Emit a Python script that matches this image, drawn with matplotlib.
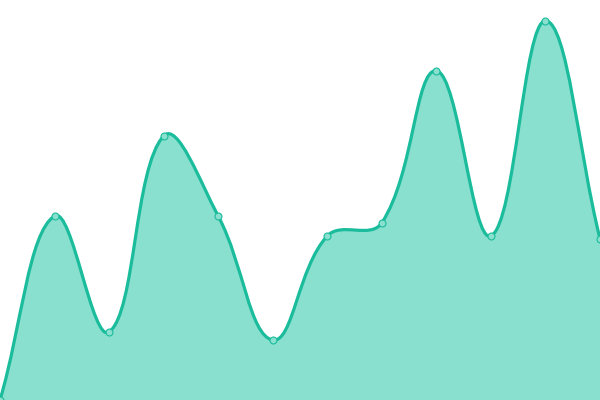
import numpy as np
import matplotlib
matplotlib.use("Agg")
import matplotlib.pyplot as plt
from matplotlib.path import Path
from matplotlib.patches import PathPatch

labels = list(range(12))
values = [0, 46, 17, 66, 46, 15, 41, 44.3, 82.3, 41, 94.8, 40.3]

LINE = "#1abc9c"
FILL = "#8ae0cf"
W, H = 600, 400
YMAX = 100
tension = 0.4

fig = plt.figure(figsize=(6, 4), dpi=100)
ax = fig.add_axes([0, 0, 1, 1])
ax.set_xlim(0, len(values) - 1)
ax.set_ylim(0, YMAX)
ax.axis("off")

# pixel-space points for Chart.js-style spline control points
sx = W / (len(values) - 1)
sy = H / YMAX
px = np.array(labels, dtype=float) * sx
py = np.array(values, dtype=float) * sy
n = len(px)
cp_prev = np.zeros((n, 2))
cp_next = np.zeros((n, 2))
for i in range(n):
    prev = np.array([px[max(i - 1, 0)], py[max(i - 1, 0)]])
    cur = np.array([px[i], py[i]])
    nxt = np.array([px[min(i + 1, n - 1)], py[min(i + 1, n - 1)]])
    d01 = np.hypot(*(cur - prev))
    d12 = np.hypot(*(nxt - cur))
    tot = d01 + d12
    s01 = d01 / tot if tot else 0
    s12 = d12 / tot if tot else 0
    fa = tension * s01
    fb = tension * s12
    cp_prev[i] = cur - fa * (nxt - prev)
    cp_next[i] = cur + fb * (nxt - prev)

def clamp(p):
    return np.array([min(max(p[0], 0), W), min(max(p[1], 0), H)])

verts = [(px[0] / sx, py[0] / sy)]
codes = [Path.MOVETO]
for i in range(n - 1):
    c1 = clamp(cp_next[i])
    c2 = clamp(cp_prev[i + 1])
    verts += [(c1[0] / sx, c1[1] / sy), (c2[0] / sx, c2[1] / sy), (px[i + 1] / sx, py[i + 1] / sy)]
    codes += [Path.CURVE4] * 3

line_path = Path(verts, codes)
fill_verts = verts + [(labels[-1], 0), (labels[0], 0), verts[0]]
fill_codes = codes + [Path.LINETO, Path.LINETO, Path.CLOSEPOLY]
ax.add_patch(PathPatch(Path(fill_verts, fill_codes), facecolor=FILL, edgecolor="none", zorder=1))
ax.add_patch(PathPatch(line_path, facecolor="none", edgecolor=LINE, lw=2.3, zorder=2))
ax.plot(labels, values, linestyle="none", marker="o", markersize=5,
        markerfacecolor=FILL, markeredgecolor=LINE, markeredgewidth=0.8, zorder=3)

fig.savefig("out.png", dpi=100)
